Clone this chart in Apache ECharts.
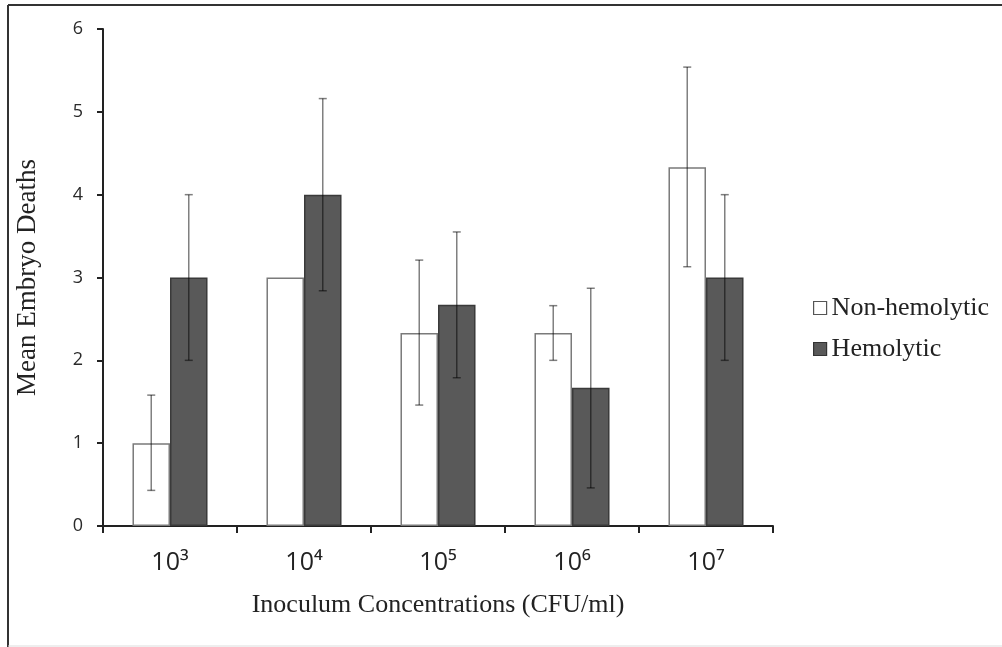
<!DOCTYPE html>
<html><head><meta charset="utf-8">
<script src="https://cdn.jsdelivr.net/npm/echarts@6/dist/echarts.min.js"></script>
<style>html,body{margin:0;padding:0;background:#fff}#c{width:1002px;height:647px}</style>
</head><body><div id="c"></div>
<script>
const categories = ['10\u00B3','10\u2074','10\u2075','10\u2076','10\u2077'];
const nonHemolytic = [1.0, 3.0, 2.33, 2.33, 4.33];
const nonHemolyticLow = [0.43, 3.0, 1.46, 2.0, 3.13];
const nonHemolyticHigh = [1.58, 3.0, 3.21, 2.66, 5.54];
const hemolytic = [3.0, 4.0, 2.67, 1.67, 3.0];
const hemolyticLow = [2.0, 2.84, 1.79, 0.46, 2.0];
const hemolyticHigh = [4.0, 5.16, 3.55, 2.87, 4.0];
const yTicks = [0,1,2,3,4,5,6];

const chart = echarts.init(document.getElementById('c'));
const barFrac = 0.28;
const serif = 'Liberation Serif, "Times New Roman", serif';
function errSeries(low, high, side){
  return {
    type:'custom', z:10, silent:true,
    data: categories.map((c,i)=>[i, low[i], high[i]]),
    renderItem:(params, api)=>{
      const i = api.value(0);
      const w = api.size([1,0])[0];
      const off = side * w * barFrac / 2;
      const lo = api.coord([i, api.value(1)]);
      const hi = api.coord([i, api.value(2)]);
      if (Math.abs(lo[1]-hi[1]) < 0.5) return null;
      const x = lo[0] + off;
      const cap = 4;
      const st = {stroke:'rgba(0,0,0,0.5)', lineWidth:1.5};
      return {type:'group', children:[
        {type:'line', shape:{x1:x,y1:lo[1],x2:x,y2:hi[1]}, style:st},
        {type:'line', shape:{x1:x-cap,y1:lo[1],x2:x+cap,y2:lo[1]}, style:st},
        {type:'line', shape:{x1:x-cap,y1:hi[1],x2:x+cap,y2:hi[1]}, style:st}
      ]};
    }
  };
}
const legendText = {fontFamily:serif, fontSize:26, lineHeight:26, color:'#222'};
chart.setOption({
  animation:false,
  backgroundColor:'#fff',
  grid:{left:103, right:229, top:29, bottom:121},
  legend:{
    orient:'vertical', left:808, top:290, itemGap:15, itemWidth:13, itemHeight:13,
    icon:'rect',
    textStyle:legendText,
    data:[
      {name:'Non-hemolytic', textStyle:legendText, itemStyle:{color:'#fff', borderColor:'#555', borderWidth:1.2}},
      {name:'Hemolytic', textStyle:legendText, itemStyle:{color:'#595959', borderColor:'#333', borderWidth:1.2}}
    ]
  },
  xAxis:{
    type:'category', data:categories,
    name:'Inoculum Concentrations (CFU/ml)', nameLocation:'middle', nameGap:66,
    nameTextStyle:{fontFamily:serif, fontSize:26, color:'#222'},
    axisLine:{lineStyle:{color:'#222', width:2}},
    axisTick:{show:true, length:7, lineStyle:{color:'#222', width:2}},
    axisLabel:{fontFamily:'Open Sans', fontSize:25, color:'#222', margin:24}
  },
  yAxis:{
    type:'value', min:0, max:6, interval:1,
    name:'Mean Embryo Deaths', nameLocation:'middle', nameGap:62,
    nameTextStyle:{fontFamily:serif, fontSize:27, color:'#222'},
    axisLine:{show:true, lineStyle:{color:'#222', width:2}},
    axisTick:{show:true, length:6, lineStyle:{color:'#222', width:2}},
    splitLine:{show:false},
    axisLabel:{fontFamily:'Open Sans', fontSize:18, color:'#2a2a2a', margin:20,
      formatter:(v)=> yTicks.includes(v) ? String(v) : ''}
  },
  series:[
    {name:'Non-hemolytic', type:'bar', data:nonHemolytic, barGap:'0%', barCategoryGap:'44%',
      itemStyle:{color:'#fff', borderColor:'#7a7a7a', borderWidth:1.5}},
    {name:'Hemolytic', type:'bar', data:hemolytic, barGap:'0%', barCategoryGap:'44%',
      itemStyle:{color:'#595959', borderColor:'#3a3a3a', borderWidth:1.5}},
    errSeries(nonHemolyticLow, nonHemolyticHigh, -1),
    errSeries(hemolyticLow, hemolyticHigh, 1)
  ],
  graphic:[
    {type:'line', shape:{x1:8,y1:5,x2:1002,y2:5}, style:{stroke:'#333', lineWidth:2}},
    {type:'line', shape:{x1:8,y1:5,x2:8,y2:647}, style:{stroke:'#333', lineWidth:2}},
    {type:'line', shape:{x1:8,y1:646,x2:1002,y2:646}, style:{stroke:'#ddd', lineWidth:1}}
  ]
});
</script></body></html>
